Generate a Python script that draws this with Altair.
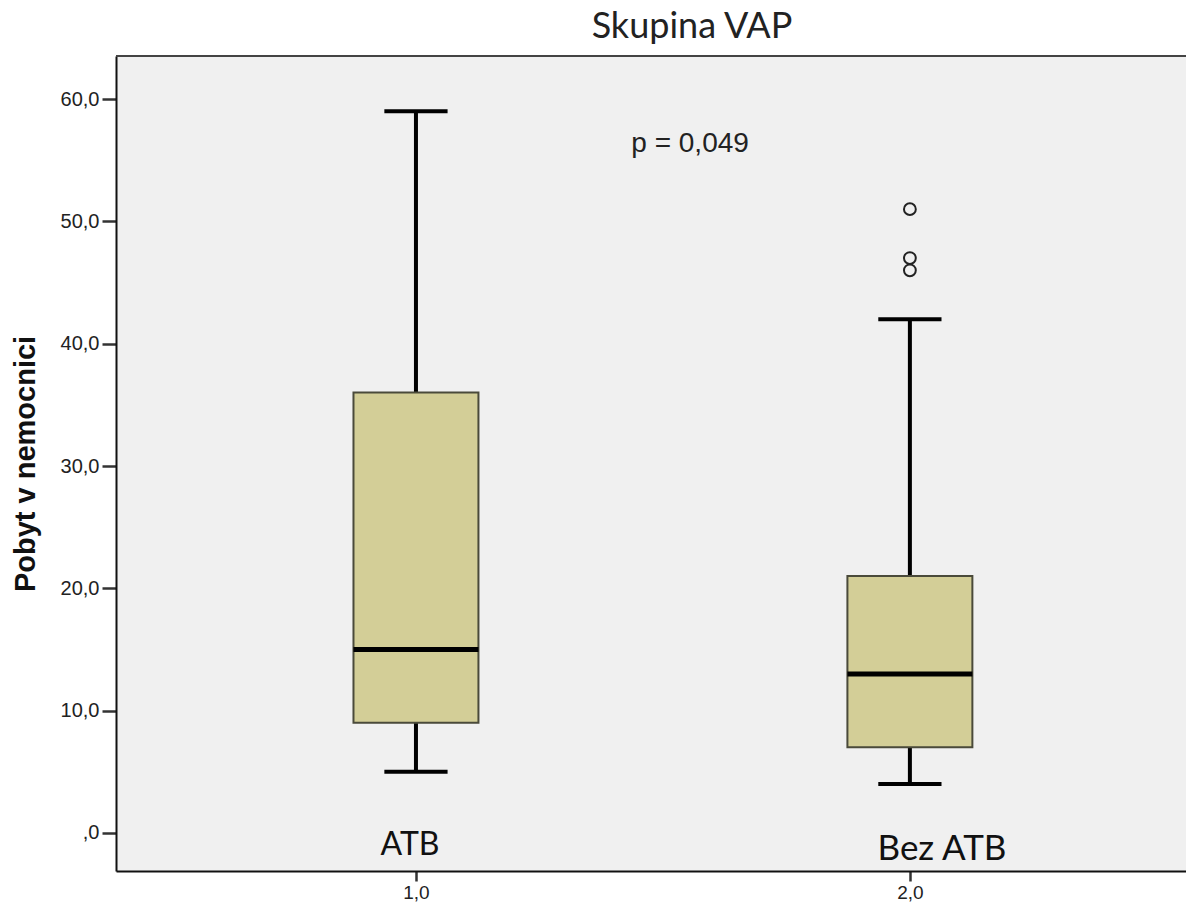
import altair as alt
import pandas as pd

# ---- data ----
groups = [1.0, 2.0]
group_labels = ["ATB", "Bez ATB"]
q1 = [9.0, 7.0]
median = [15.0, 13.0]
q3 = [36.0, 21.0]
whisker_low = [5.0, 4.0]
whisker_high = [59.0, 42.0]
outlier_group = [2.0, 2.0, 2.0]
outlier_value = [51.0, 47.0, 46.0]
y_ticks = [0, 10, 20, 30, 40, 50, 60]
x_ticks = [1, 2]
p_text = "p = 0,049"

BOX_HALF = 0.1265
CAP_HALF = 0.064
X_DOMAIN = [0.3927, 2.559]
Y_DOMAIN = [-3.11, 63.52]
W, H = 1070, 815

df = pd.DataFrame({
    "g": groups, "label": group_labels, "q1": q1, "med": median, "q3": q3,
    "lo": whisker_low, "hi": whisker_high,
})
df["bx0"] = df["g"] - BOX_HALF
df["bx1"] = df["g"] + BOX_HALF
df["cx0"] = df["g"] - CAP_HALF
df["cx1"] = df["g"] + CAP_HALF

out_df = pd.DataFrame({"g": outlier_group, "v": outlier_value})

xs = alt.Scale(domain=X_DOMAIN, nice=False, zero=False)
ys = alt.Scale(domain=Y_DOMAIN, nice=False, zero=False)

x_axis = alt.Axis(values=x_ticks, title=None, grid=False,
                  labelExpr="replace(format(datum.value, '.1f'), '.', ',')",
                  labelFont="Liberation Sans", labelFontSize=19, labelColor="#222",
                  labelBaseline="top",
                  tickSize=10, tickWidth=2.5, tickColor="#333", labelPadding=2,
                  domainColor="#111", domainWidth=2)
y_axis = alt.Axis(values=y_ticks, title="Pobyt v nemocnici", grid=False,
                  labelExpr="datum.value == 0 ? ',0' : replace(format(datum.value, '.1f'), '.', ',')",
                  labelFont="Liberation Sans", labelFontSize=20, labelColor="#222",
                  tickSize=14, tickWidth=2.5, tickColor="#333", labelPadding=3,
                  domainColor="#111", domainWidth=2,
                  titleFont="Liberation Sans", titleFontSize=29, titleFontWeight="bold",
                  titleColor="#111", titlePadding=20)

base = alt.Chart(df)

whisk_lo = base.mark_rule(color="#000", strokeWidth=4).encode(
    x=alt.X("g:Q", scale=xs, axis=x_axis), y=alt.Y("lo:Q", scale=ys, axis=y_axis), y2="q1:Q")
whisk_hi = base.mark_rule(color="#000", strokeWidth=4).encode(
    x=alt.X("g:Q", scale=xs), y=alt.Y("q3:Q", scale=ys), y2="hi:Q")
cap_lo = base.mark_rule(color="#000", strokeWidth=4).encode(
    x=alt.X("cx0:Q", scale=xs), x2="cx1:Q", y=alt.Y("lo:Q", scale=ys))
cap_hi = base.mark_rule(color="#000", strokeWidth=4).encode(
    x=alt.X("cx0:Q", scale=xs), x2="cx1:Q", y=alt.Y("hi:Q", scale=ys))
box = base.mark_rect(fill="#D3CE97", stroke="#4a4a3a", strokeWidth=2).encode(
    x=alt.X("bx0:Q", scale=xs), x2="bx1:Q", y=alt.Y("q1:Q", scale=ys), y2="q3:Q")
med = base.mark_rule(color="#000", strokeWidth=5).encode(
    x=alt.X("bx0:Q", scale=xs), x2="bx1:Q", y=alt.Y("med:Q", scale=ys))

outliers = alt.Chart(out_df).mark_point(shape="circle", filled=False, size=140, opacity=1,
                                        stroke="#222", strokeWidth=2).encode(
    x=alt.X("g:Q", scale=xs), y=alt.Y("v:Q", scale=ys))

# annotation texts (positions in data units)
ann = pd.DataFrame({
    "x": [0.988, 2.065],
    "y": [-1.8, -2.2],
    "fs": [32, 35],
    "t": group_labels,
})
group_text = alt.Chart(ann).mark_text(font="Lato", color="#111",
                                      baseline="alphabetic", align="center").encode(
    x=alt.X("x:Q", scale=xs), y=alt.Y("y:Q", scale=ys), text="t:N",
    size=alt.Size("fs:Q", scale=None, legend=None))

p_df = pd.DataFrame({"x": [1.555], "y": [56.3], "t": [p_text]})
p_mark = alt.Chart(p_df).mark_text(font="Liberation Sans", fontSize=28, color="#222",
                                   baseline="middle", align="center").encode(
    x=alt.X("x:Q", scale=xs), y=alt.Y("y:Q", scale=ys), text="t:N")

top_border = alt.Chart(p_df).mark_rule(color="#444", strokeWidth=2).encode(
    x=alt.value(0), x2=alt.value(W), y=alt.value(0))

chart = alt.layer(
    whisk_lo, whisk_hi, cap_lo, cap_hi, box, med, outliers, group_text, p_mark, top_border
).properties(
    width=W, height=H,
    title=alt.TitleParams("Skupina VAP", font="Lato", fontSize=36, fontWeight="normal",
                          color="#222", anchor="middle", dx=41, offset=9),
    autosize=alt.AutoSizeParams(type="none"),
    padding={"left": 108, "top": 48, "right": 0, "bottom": 33},
    background="white",
).configure_view(fill="#F0F0F0", stroke=None)

chart.save("out.html", embed_options={"renderer": "svg", "actions": False})
